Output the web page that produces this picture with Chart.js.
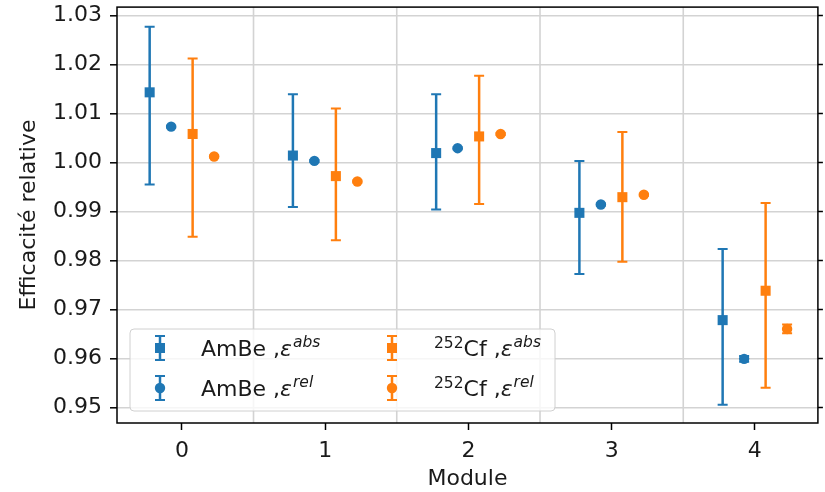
<!DOCTYPE html>
<html>
<head>
<meta charset="utf-8">
<script src="https://cdn.jsdelivr.net/npm/chart.js@4.4.0/dist/chart.umd.min.js"></script>
<style>
  html, body { margin: 0; padding: 0; background: #fff; }
</style>
</head>
<body>
<canvas id="effChart" width="825" height="492"></canvas>
<script>
// data
const modules = [0, 1, 2, 3, 4];
const yTicks = [0.95, 0.96, 0.97, 0.98, 0.99, 1.00, 1.01, 1.02, 1.03];

const ambeAbs = [1.0143, 1.0014, 1.0019, 0.9897, 0.9678];
const ambeAbsLow = [0.9955, 0.9909, 0.9904, 0.9772, 0.9505];
const ambeAbsHigh = [1.0277, 1.0139, 1.0139, 1.0003, 0.9823];
const ambeRel = [1.0073, 1.0003, 1.0029, 0.9914, 0.9599];
const ambeRelErr = [0.0002, 0.0002, 0.0002, 0.0002, 0.0006];

const cfAbs = [1.0058, 0.9972, 1.0053, 0.9929, 0.9738];
const cfAbsLow = [0.9848, 0.9841, 0.9915, 0.9797, 0.9540];
const cfAbsHigh = [1.0212, 1.0110, 1.0177, 1.0062, 0.9917];
const cfRel = [1.0012, 0.9961, 1.0058, 0.9934, 0.9660];
const cfRelErr = [0.0002, 0.0002, 0.0002, 0.0002, 0.0009];

const BLUE = '#1f77b4';
const ORANGE = '#ff7f0e';
const FONT = '"DejaVu Sans", "Liberation Sans", sans-serif';

function points(vals, lows, highs, shift) {
  return modules.map((m, i) => ({ x: m + shift, y: vals[i], yMin: lows[i], yMax: highs[i] }));
}
function symPoints(vals, errs, shift) {
  return points(vals, vals.map((v, i) => v - errs[i]), vals.map((v, i) => v + errs[i]), shift);
}

// vertical grid lines sit between modules, not on the ticks
const halfGrid = {
  id: 'halfGrid',
  beforeDatasetsDraw(chart) {
    const { ctx, chartArea, scales } = chart;
    ctx.save();
    ctx.strokeStyle = '#d3d3d3';
    ctx.lineWidth = 1.6;
    modules.slice(0, -1).forEach(m => {
      const px = scales.x.getPixelForValue(m + 0.5);
      ctx.beginPath();
      ctx.moveTo(px, chartArea.top);
      ctx.lineTo(px, chartArea.bottom);
      ctx.stroke();
    });
    ctx.restore();
  }
};

const errorBars = {
  id: 'errorBars',
  beforeDatasetsDraw(chart) {
    const { ctx, scales } = chart;
    ctx.save();
    chart.data.datasets.forEach(ds => {
      ctx.strokeStyle = ds.borderColor;
      ds.data.forEach(p => {
        const px = scales.x.getPixelForValue(p.x);
        const y1 = scales.y.getPixelForValue(p.yMin);
        const y2 = scales.y.getPixelForValue(p.yMax);
        ctx.lineWidth = 2.5;
        ctx.beginPath();
        ctx.moveTo(px, y1);
        ctx.lineTo(px, y2);
        ctx.stroke();
        ctx.lineWidth = 2;
        ctx.beginPath();
        ctx.moveTo(px - 5, y1); ctx.lineTo(px + 5, y1);
        ctx.moveTo(px - 5, y2); ctx.lineTo(px + 5, y2);
        ctx.stroke();
      });
    });
    ctx.restore();
  }
};

const frame = {
  id: 'frame',
  afterDatasetsDraw(chart) {
    const { ctx, chartArea } = chart;
    ctx.save();
    ctx.strokeStyle = '#000';
    ctx.lineWidth = 1.5;
    ctx.strokeRect(chartArea.left, chartArea.top, chartArea.right - chartArea.left, chartArea.bottom - chartArea.top);
    ctx.restore();
  }
};

// matplotlib style legend with superscripts
const legendItems = [
  { color: BLUE, style: 'rect', pre: '', base: 'AmBe ,', sup: 'abs' },
  { color: BLUE, style: 'circle', pre: '', base: 'AmBe ,', sup: 'rel' },
  { color: ORANGE, style: 'rect', pre: '252', base: 'Cf ,', sup: 'abs' },
  { color: ORANGE, style: 'circle', pre: '252', base: 'Cf ,', sup: 'rel' }
];

function drawMarker(ctx, style, x, y) {
  ctx.beginPath();
  if (style === 'rect') {
    ctx.rect(x - 5, y - 5, 10, 10);
  } else {
    ctx.arc(x, y, 5.2, 0, Math.PI * 2);
  }
  ctx.fill();
}

const mplLegend = {
  id: 'mplLegend',
  afterDraw(chart) {
    const { ctx, chartArea } = chart;
    const bx = chartArea.left + 13, by = chartArea.bottom - 94, bw = 425, bh = 82;
    ctx.save();
    ctx.fillStyle = 'rgba(255,255,255,0.8)';
    ctx.strokeStyle = '#d0d0d0';
    ctx.lineWidth = 1;
    ctx.beginPath();
    ctx.roundRect(bx, by, bw, bh, 4);
    ctx.fill();
    ctx.stroke();

    legendItems.forEach((it, i) => {
      const col = Math.floor(i / 2), row = i % 2;
      const mx = bx + 30 + col * 232;
      const ty = by + 19 + row * 40;
      const tx = bx + 71 + col * 233;
      // icon: error bar with marker
      ctx.strokeStyle = it.color;
      ctx.fillStyle = it.color;
      ctx.lineWidth = 2.5;
      ctx.beginPath();
      ctx.moveTo(mx, ty - 12); ctx.lineTo(mx, ty + 12);
      ctx.stroke();
      ctx.lineWidth = 2;
      ctx.beginPath();
      ctx.moveTo(mx - 5, ty - 12); ctx.lineTo(mx + 5, ty - 12);
      ctx.moveTo(mx - 5, ty + 12); ctx.lineTo(mx + 5, ty + 12);
      ctx.stroke();
      drawMarker(ctx, it.style, mx, ty);
      // label
      ctx.fillStyle = '#1a1a1a';
      ctx.textBaseline = 'alphabetic';
      ctx.textAlign = 'left';
      const base = ty + 8;
      let x = tx;
      if (it.pre) {
        ctx.font = '15.5px ' + FONT;
        ctx.fillText(it.pre, x, base - 8);
        x += ctx.measureText(it.pre).width;
      }
      ctx.font = '22px ' + FONT;
      ctx.fillText(it.base, x, base);
      x += ctx.measureText(it.base).width;
      ctx.font = 'italic 22px ' + FONT;
      ctx.fillText('\u03b5', x, base);
      x += ctx.measureText('\u03b5').width + 1;
      ctx.font = 'italic 15.5px ' + FONT;
      ctx.fillText(it.sup, x, base - 9);
    });
    ctx.restore();
  }
};

const tickFont = { family: FONT, size: 22 };

new Chart(document.getElementById('effChart'), {
  type: 'scatter',
  data: {
    datasets: [
      { label: 'AmBe abs', data: points(ambeAbs, ambeAbsLow, ambeAbsHigh, -0.225),
        backgroundColor: BLUE, borderColor: BLUE, pointStyle: 'rect', pointRadius: 7.1, borderWidth: 0 },
      { label: 'AmBe rel', data: symPoints(ambeRel, ambeRelErr, -0.075),
        backgroundColor: BLUE, borderColor: BLUE, pointStyle: 'circle', pointRadius: 5.2, borderWidth: 0 },
      { label: '252Cf abs', data: points(cfAbs, cfAbsLow, cfAbsHigh, 0.075),
        backgroundColor: ORANGE, borderColor: ORANGE, pointStyle: 'rect', pointRadius: 7.1, borderWidth: 0 },
      { label: '252Cf rel', data: symPoints(cfRel, cfRelErr, 0.225),
        backgroundColor: ORANGE, borderColor: ORANGE, pointStyle: 'circle', pointRadius: 5.2, borderWidth: 0 }
    ]
  },
  options: {
    responsive: false,
    animation: false,
    layout: { padding: { top: 5 } },
    plugins: {
      legend: { display: false },
      tooltip: { enabled: false }
    },
    scales: {
      x: {
        type: 'linear',
        min: -0.453,
        max: 4.44,
        afterBuildTicks: s => { s.ticks = modules.map(v => ({ value: v })); },
        afterFit: s => { s.height = 69; s.paddingLeft = 0; s.paddingRight = 0; },
        ticks: { font: tickFont, color: '#1a1a1a', padding: 8, callback: v => String(v) },
        grid: { drawOnChartArea: false, drawTicks: true, tickLength: 7, tickColor: '#000', tickWidth: 1.5 },
        border: { display: false },
        title: { display: true, text: 'Module', font: tickFont, color: '#1a1a1a', padding: { top: 0, bottom: 0 } }
      },
      y: {
        min: 0.9468,
        max: 1.0317,
        afterBuildTicks: s => { s.ticks = yTicks.map(v => ({ value: v })); },
        afterFit: s => { s.width = 117; s.paddingTop = 0; s.paddingBottom = 0; },
        ticks: { font: tickFont, color: '#1a1a1a', padding: 8, callback: v => v.toFixed(2) },
        grid: { color: '#d3d3d3', lineWidth: 1.6, tickLength: 7, tickColor: '#000', tickWidth: 1.5 },
        border: { display: false },
        title: { display: true, text: 'Efficacité relative', font: tickFont, color: '#1a1a1a', padding: { top: 16, bottom: 0 } }
      },
      y2: {
        position: 'right',
        min: 0.9468,
        max: 1.0317,
        afterBuildTicks: s => { s.ticks = yTicks.map(v => ({ value: v })); },
        afterFit: s => { s.width = 6; s.paddingTop = 0; s.paddingBottom = 0; },
        ticks: { display: false },
        grid: { drawOnChartArea: false, tickLength: 5, tickColor: '#000', tickWidth: 1.5 },
        border: { display: false }
      }
    }
  },
  plugins: [halfGrid, errorBars, frame, mplLegend]
});
</script>
</body>
</html>
